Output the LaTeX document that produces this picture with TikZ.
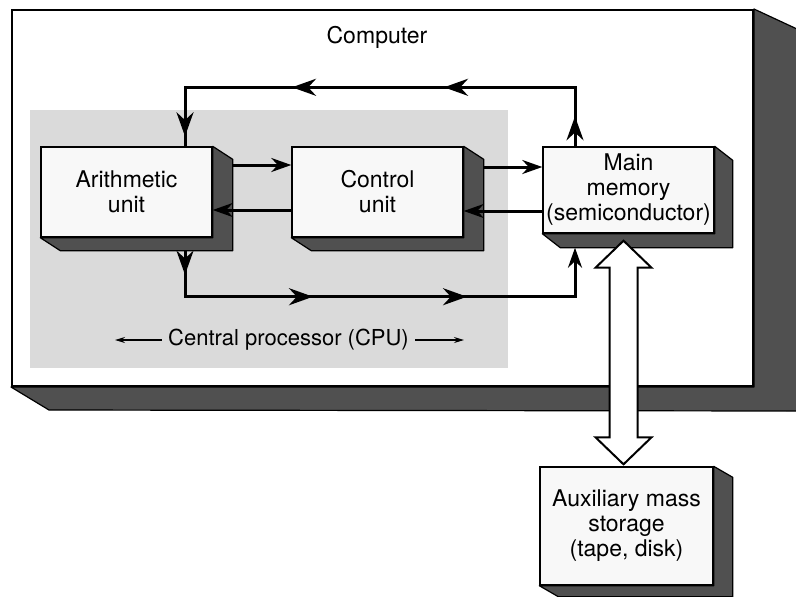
\documentclass[tikz,border=0pt]{standalone}
\usepackage{fontspec}
\setsansfont{TeX Gyre Heros}
\usepackage{xcolor}
\definecolor{cpubg}{HTML}{DADADA}
\definecolor{slabgray}{HTML}{505050}
\definecolor{facegray}{HTML}{F8F8F8}
\usepackage{tikz}
\usetikzlibrary{arrows.meta,calc,decorations.markings}
\tikzset{
  unitbox/.style={draw,line width=0.7pt,fill=facegray,inner sep=1pt,align=center,font=\sffamily\fontsize{11.5}{12.5}\selectfont,minimum width=85.5pt,minimum height=45pt},
  unitslab/.style={fill=slabgray,draw=black,line width=0.6pt,line join=round},
  flowline/.style={line width=1.5pt},
  flow/.style={flowline,-{Stealth[length=10pt,width=7pt]}},
  cpuarrow/.style={-{Stealth[length=5pt,width=3pt]},line width=0.6pt},
  hollow/.style={draw,fill=white,line width=1pt,line join=miter},
  tagtext/.style={font=\sffamily\fontsize{11.5}{12.5}\selectfont,inner sep=2pt},
}

\begin{document}
\begin{tikzpicture}[x=0.5pt,y=-0.5pt]
\useasboundingbox (0,0) rectangle (796,596);
% computer frame
\node[draw,line width=1pt,fill=white,inner sep=0pt,minimum width=370.5pt,minimum height=188pt] (comp) at (382.5,198) {};
\draw[unitslab] (comp.north east) -- ++(43,20) -- ($(comp.south east)+(43,24)$) -- ($(comp.south west)+(38,23)$) -- (comp.south west) -- (comp.south east) -- cycle;
\fill[cpubg] (30,110) rectangle (508,368);
\node[tagtext] (complbl) at (377,37) {Computer};
% units
\node[unitbox] (arith) at (126.5,192) {Arithmetic\\unit};
\node[unitbox] (ctrl) at (377.5,192) {Control\\unit};
\node[unitbox,minimum height=43pt] (mem) at (628.5,190) {Main\\memory\\(semiconductor)};
\node[unitbox,minimum width=86.5pt,minimum height=59pt] (aux) at (626.5,526) {Auxiliary mass\\storage\\(tape, disk)};
\foreach \n/\dx/\dy in {arith/20/13,ctrl/20/13,mem/18/14,aux/19/11}
  \draw[unitslab] (\n.north east) -- ++(\dx,\dy) -- ($(\n.south east)+(\dx,\dy)$) -- ($(\n.south west)+(\dx,\dy)$) -- (\n.south west) -- (\n.south east) -- cycle;
% data paths
\draw[flow] ([xshift=10pt,yshift=13.5pt]arith.east) -- ([yshift=13.5pt]ctrl.west);
\draw[flow] ([yshift=-9pt]ctrl.west) -- ([yshift=-9pt]arith.east);
\draw[flow] ([xshift=10pt,yshift=12.5pt]ctrl.east) -- ([yshift=11.5pt]mem.west);
\draw[flow] ([yshift=-10.5pt]mem.west) -- ([yshift=-9.5pt]ctrl.east);
\draw[flowline,postaction={decorate},decoration={markings,
    mark=at position 15pt with {\arrow{Stealth[length=12pt,width=8.5pt]}},
    mark=at position 95pt with {\arrow{Stealth[length=12pt,width=8.5pt]}},
    mark=at position 171pt with {\arrow{Stealth[length=12pt,width=8.5pt]}},
    mark=at position 249pt with {\arrow{Stealth[length=12pt,width=8.5pt]}}}]
  ([xshift=-26.75pt]mem.north) -- ++(0,-59) -| ([xshift=29.25pt]arith.north);
\draw[flow,postaction={decorate},decoration={markings,
    mark=at position 12pt with {\arrow{Stealth[length=12pt,width=8.5pt]}},
    mark=at position 87pt with {\arrow{Stealth[length=12pt,width=8.5pt]}},
    mark=at position 164pt with {\arrow{Stealth[length=12pt,width=8.5pt]}}}]
  ([xshift=29.25pt,yshift=-6.5pt]arith.south) -- ++(0,46) -| ([xshift=-26.75pt,yshift=-7pt]mem.south);
% cpu label
\node[tagtext,font=\sffamily\fontsize{11}{13}\selectfont,inner sep=3pt] (cpulbl) at (288.5,340) {Central processor (CPU)};
\coordinate (cpuL) at (115,340);
\coordinate (cpuR) at (464,340);
\draw[cpuarrow] (cpulbl) -- (cpuL);
\draw[cpuarrow] (cpulbl) -- (cpuR);
% memory to auxiliary storage
\coordinate (dtop) at ($(mem.south)+(-5,7)$);
\coordinate (dbot) at ($(aux.north)+(-3,-2)$);
\draw[hollow] (dtop) -- ++(28,27) -- ++(-14,0) -- ($(dbot)+(14,-27)$) -- ++(14,0) -- (dbot) -- ++(-28,-27) -- ++(14,0) -- ($(dtop)+(-14,27)$) -- ++(-14,0) -- cycle;
\end{tikzpicture}
\end{document}
